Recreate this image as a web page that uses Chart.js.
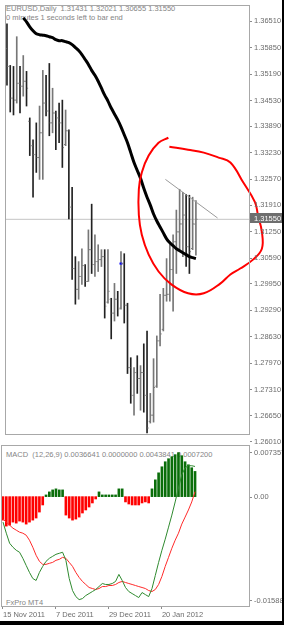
<!DOCTYPE html>
<html lang="pt-BR">
<head>
<meta charset="utf-8">
<title>EURUSD Daily</title>
<script src="https://cdn.jsdelivr.net/npm/chart.js@4.4.1/dist/chart.umd.min.js"></script>
<style>
    html, body { margin: 0; padding: 0; background: #ffffff; }
    body { position: relative; width: 284px; height: 625px; overflow: hidden; font-family: "Liberation Sans", Arial, sans-serif; }
    canvas { position: absolute; left: 0; }
    #grafico-preco { top: 0; width: 284px; height: 450px; }
    #grafico-macd { top: 440px; width: 284px; height: 185px; }
    .texto { position: absolute; left: 6px; font-size: 7.5px; line-height: 9px; color: #858585; white-space: pre; }
    .borda { position: absolute; background: #000; }
</style>
</head>
<body>
<div class="texto" style="top: 3.5px;">EURUSD,Daily  1.31431 1.32021 1.30655 1.31550</div>
<div class="texto" style="top: 12.5px;">0 minutes 1 seconds left to bar end</div>
<div class="texto" style="top: 449.5px;">MACD  (12,26,9) 0.0036641 0.0000000 0.0043841 0.0007200</div>
<div class="texto" style="top: 597.5px;">FxPro MT4</div>
<canvas id="grafico-preco" width="284" height="450"></canvas>
<canvas id="grafico-macd" width="284" height="185"></canvas>
<div class="borda" style="left: 282px; top: 0; width: 2px; height: 625px;"></div>
<div class="borda" style="left: 0; top: 621px; width: 284px; height: 4px;"></div>
<script>
// Barras diárias (OHLC)
const aberturas = [1.35817, 1.35371, 1.34579, 1.34529, 1.34950, 1.34876, 1.35000, 1.34000, 1.33390, 1.33167,
    1.33093, 1.33712, 1.34455, 1.34257, 1.33960, 1.34207, 1.34084, 1.33960, 1.33420, 1.33762,
    1.31855, 1.30320, 1.29800, 1.30122, 1.30394, 1.29998, 1.30791, 1.30419, 1.30493, 1.30543,
    1.30617, 1.29480, 1.29550, 1.29206, 1.29553, 1.29330, 1.30444, 1.29404, 1.27844, 1.27151,
    1.27720, 1.27572, 1.27720, 1.27151, 1.26500, 1.26656, 1.27380, 1.28513, 1.28800, 1.29652,
    1.29676, 1.30295, 1.30989, 1.31236, 1.31434, 1.31657, 1.30865, 1.30820, 1.31431];
const maximas = [1.36436, 1.35396, 1.35371, 1.36114, 1.35371, 1.35643, 1.35247, 1.34084, 1.33539, 1.33960,
    1.34381, 1.35272, 1.35148, 1.35445, 1.34826, 1.34257, 1.34455, 1.34529, 1.34282, 1.33786,
    1.32350, 1.30617, 1.30493, 1.30815, 1.30419, 1.31286, 1.31929, 1.31162, 1.30914, 1.30791,
    1.30791, 1.30791, 1.29577, 1.29949, 1.29751, 1.30741, 1.30691, 1.29453, 1.28092, 1.27844,
    1.28141, 1.27894, 1.28438, 1.28760, 1.27200, 1.28067, 1.28636, 1.29676, 1.29825, 1.30568,
    1.30989, 1.31162, 1.31781, 1.32301, 1.32227, 1.32177, 1.32152, 1.32103, 1.32021];
const minimas = [1.34901, 1.34232, 1.34158, 1.34455, 1.34207, 1.34628, 1.34381, 1.33143, 1.32103, 1.32722,
    1.32548, 1.32548, 1.34133, 1.33638, 1.33712, 1.33291, 1.33465, 1.32846, 1.33390, 1.31558,
    1.30048, 1.29429, 1.29553, 1.29924, 1.29874, 1.29998, 1.30196, 1.30122, 1.30246, 1.30370,
    1.29082, 1.29453, 1.28562, 1.29008, 1.29132, 1.29305, 1.28958, 1.27696, 1.26953, 1.26656,
    1.27200, 1.26779, 1.26730, 1.26210, 1.26458, 1.26482, 1.27349, 1.28389, 1.28760, 1.29503,
    1.29503, 1.29255, 1.30196, 1.30791, 1.30617, 1.30370, 1.30196, 1.30791, 1.30655];
const fechamentos = [1.35371, 1.34579, 1.34529, 1.34950, 1.34876, 1.35000, 1.34826, 1.33390, 1.33167, 1.33093,
    1.33712, 1.34455, 1.34257, 1.33960, 1.34207, 1.34084, 1.33960, 1.33341, 1.33762, 1.31855,
    1.30320, 1.29800, 1.30122, 1.30394, 1.29998, 1.30791, 1.30419, 1.30493, 1.30543, 1.30617,
    1.29379, 1.29751, 1.29206, 1.29553, 1.29305, 1.30444, 1.29404, 1.27844, 1.27151, 1.27720,
    1.27572, 1.27720, 1.27151, 1.26334, 1.26656, 1.27349, 1.28513, 1.28686, 1.29652, 1.29676,
    1.30295, 1.30989, 1.31236, 1.31434, 1.31657, 1.30865, 1.30741, 1.31434, 1.31550];

// Média móvel (linha preta grossa)
const mediaMovel = [null, null, null, null, null, 1.36584, 1.36485, 1.36362, 1.36262, 1.36188,
    1.36163, 1.36151, 1.36139, 1.36114, 1.36089, 1.36040, 1.36015, 1.36015, 1.35990, 1.35965,
    1.35916, 1.35842, 1.35767, 1.35668, 1.35545, 1.35421, 1.35272, 1.35148, 1.35000, 1.34826,
    1.34653, 1.34505, 1.34331, 1.34183, 1.34034, 1.33861, 1.33663, 1.33465, 1.33217, 1.32969,
    1.32771, 1.32573, 1.32326, 1.32103, 1.31905, 1.31682, 1.31508, 1.31360, 1.31211, 1.31063,
    1.30964, 1.30890, 1.30815, 1.30766, 1.30716, 1.30667, 1.30617, 1.30592, 1.30568];

// Marcações feitas à mão: círculo vermelho e linha de tendência
const circuloX = [49.55, 46.53, 43.50, 41.39, 40.48, 40.48, 41.39, 43.50, 46.53, 50.45, 55.59, 60.42, 65.56,
    68.58, 71.60, 75.53, 78.25, 78.25, 77.04, 76.13, 72.51, 68.58, 64.95, 60.42, 55.59, 49.85];
const circuloY = [1.33588, 1.33465, 1.33143, 1.32722, 1.32301, 1.31657, 1.31162, 1.30667, 1.30246, 1.29924,
    1.29701, 1.29701, 1.29949, 1.30172, 1.30320, 1.30543, 1.30815, 1.31236, 1.31657, 1.31979, 1.32474,
    1.32969, 1.33093, 1.33217, 1.33291, 1.33366];
const tendenciaX = [48.64, 64.65];
const tendenciaY = [1.32548, 1.31583];
const precoBid = 1.31550;
const marcaAzulX = 35;
const marcaAzulY = 1.30444;

// Escala de preços
const ticksPreco = [1.36510, 1.35850, 1.35190, 1.34530, 1.33890, 1.33230, 1.32570, 1.31910, 1.31250,
    1.30590, 1.29950, 1.29290, 1.28630, 1.27970, 1.27310, 1.26650, 1.26010];

// MACD
const histograma = [-0.00341, -0.00428, -0.00414, -0.00370, -0.00385, -0.00355, -0.00370, -0.00399, -0.00370, -0.00341,
    -0.00311, -0.00224, -0.00121, 0.00025, 0.00069, 0.00098, 0.00113, 0.00098, 0.00098, -0.00268,
    -0.00311, -0.00341, -0.00326, -0.00297, -0.00238, -0.00194, -0.00151, -0.00092, -0.00034, 0.00069,
    0.00025, 0.00025, 0.00025, 0.00025, 0.00025, 0.00113, 0.00113, -0.00077, -0.00107, -0.00121,
    -0.00121, -0.00121, -0.00092, -0.00077, -0.00092, 0.00113, 0.00244, 0.00346, 0.00434, 0.00507,
    0.00551, 0.00580, 0.00610, 0.00639, 0.00595, 0.00507, 0.00463, 0.00420, 0.0036641];
const linhaVerde = [-0.00370, -0.00531, -0.00677, -0.00735, -0.00779, -0.00808, -0.00896, -0.00999, -0.01101, -0.01189,
    -0.01218, -0.01101, -0.01013, -0.00940, -0.00896, -0.00867, -0.00838, -0.00823, -0.00808, -0.00925,
    -0.01189, -0.01364, -0.01452, -0.01496, -0.01481, -0.01437, -0.01408, -0.01379, -0.01349, -0.01306,
    -0.01262, -0.01276, -0.01276, -0.01262, -0.01232, -0.01130, -0.01218, -0.01320, -0.01379, -0.01408,
    -0.01437, -0.01466, -0.01393, -0.01423, -0.01452, -0.01335, -0.01145, -0.00955, -0.00779, -0.00618,
    -0.00443, -0.00268, -0.00077, 0.00127, 0.00317, 0.00420, 0.00449, 0.00449, 0.0043841];
const linhaVermelha = [-0.00326, -0.00370, -0.00414, -0.00458, -0.00487, -0.00516, -0.00531, -0.00560, -0.00633, -0.00735,
    -0.00852, -0.00940, -0.00984, -0.00984, -0.00969, -0.00955, -0.00925, -0.00911, -0.00882, -0.00896,
    -0.00955, -0.01013, -0.01101, -0.01174, -0.01232, -0.01276, -0.01320, -0.01335, -0.01349, -0.01335,
    -0.01306, -0.01306, -0.01291, -0.01291, -0.01276, -0.01247, -0.01232, -0.01247, -0.01262, -0.01276,
    -0.01291, -0.01306, -0.01320, -0.01335, -0.01364, -0.01379, -0.01349, -0.01276, -0.01159, -0.01013,
    -0.00882, -0.00750, -0.00633, -0.00531, -0.00399, -0.00297, -0.00194, -0.00077, 0.00072];
const ticksMacd = [0.007357, 0, -0.015888];
const rotulosMacd = ['0.007357', '0.00', '-0.015888'];

// Datas do eixo horizontal
const posDatas = [0, 16, 32, 48];
const rotulosDatas = ['15 Nov 2011', '7 Dec 2011', '29 Dec 2011', '20 Jan 2012'];

const FONTE = '"Liberation Sans", Arial, sans-serif';
const indices = maximas.map((_, i) => i);

// Plugin: moldura do painel, escala da direita e etiqueta do bid
const painelMT4 = {
    id: 'painelMT4',
    afterDraw(chart, args, opts) {
        const { ctx, chartArea: area } = chart;
        const y = chart.scales.y;
        ctx.save();
        ctx.strokeStyle = '#a8a8a8';
        ctx.lineWidth = 1;
        ctx.strokeRect(area.left - 0.5, area.top - 0.5, area.right - area.left + 1, area.bottom - area.top + 1);

        ctx.font = '7.5px ' + FONTE;
        ctx.textBaseline = 'middle';
        ctx.textAlign = 'left';
        opts.valores.forEach((v, i) => {
            let py = y.getPixelForValue(v);
            if (opts.limitar) py = Math.min(Math.max(py, area.top + 6), area.bottom - 6);
            ctx.fillStyle = '#8c8c8c';
            ctx.fillRect(area.right + 1, Math.round(py), 2, 1);
            ctx.fillStyle = '#6c6c6c';
            ctx.fillText(opts.rotulos[i], area.right + 5, py + 0.5);
        });

        if (opts.bid !== undefined) {
            const py = Math.round(y.getPixelForValue(opts.bid));
            ctx.fillStyle = '#6e6e6e';
            ctx.fillRect(area.right + 1, py - 6, 34, 10);
            ctx.fillStyle = '#ffffff';
            ctx.fillText(opts.bid.toFixed(5), area.right + 5, py - 0.5);
        }
        ctx.restore();
    }
};

// Gráfico de preços
const graficoPreco = new Chart(document.getElementById('grafico-preco'), {
    type: 'bar',
    data: {
        datasets: [
            {
                type: 'line',
                data: circuloX.map((x, i) => ({ x: x, y: circuloY[i] })),
                borderColor: '#ff0000',
                borderWidth: 2,
                pointRadius: 0,
                tension: 0.4,
                clip: false,
                order: 0
            },
            {
                type: 'line',
                data: mediaMovel.map((v, i) => ({ x: i, y: v })),
                borderColor: '#000000',
                borderWidth: 3,
                pointRadius: 0,
                tension: 0.3,
                order: 1
            },
            {
                type: 'line',
                data: tendenciaX.map((x, i) => ({ x: x, y: tendenciaY[i] })),
                borderColor: '#9a9a9a',
                borderWidth: 1,
                pointRadius: 0,
                order: 2
            },
            {
                type: 'bar',
                data: indices.map(i => ({ x: i, y: [minimas[i], maximas[i]] })),
                backgroundColor: indices.map(i => fechamentos[i] >= aberturas[i] ? '#777777' : '#222222'),
                barThickness: 1,
                grouped: false,
                order: 4
            },
            {
                type: 'scatter',
                data: indices.map(i => ({ x: i - 0.3, y: aberturas[i] })),
                pointStyle: 'line',
                radius: 0.6,
                borderColor: '#777777',
                borderWidth: 1,
                order: 3
            },
            {
                type: 'scatter',
                data: indices.map(i => ({ x: i + 0.3, y: fechamentos[i] })),
                pointStyle: 'line',
                radius: 0.6,
                borderColor: '#777777',
                borderWidth: 1,
                order: 3
            },
            {
                type: 'scatter',
                data: [{ x: marcaAzulX, y: marcaAzulY }],
                pointStyle: 'line',
                radius: 1.5,
                borderColor: '#0000ff',
                borderWidth: 2,
                order: 3
            },
            {
                type: 'line',
                data: [{ x: -0.3, y: precoBid }, { x: 74.3, y: precoBid }],
                borderColor: '#c4c4c4',
                borderWidth: 1,
                pointRadius: 0,
                order: 5
            }
        ]
    },
    options: {
        responsive: false,
        animation: false,
        layout: { padding: { left: 2, top: 2, right: 35, bottom: 16 } },
        plugins: {
            legend: { display: false },
            tooltip: { enabled: false },
            painelMT4: {
                valores: ticksPreco,
                rotulos: ticksPreco.map(v => v.toFixed(5)),
                limitar: false,
                bid: precoBid
            }
        },
        scales: {
            x: { type: 'linear', min: -0.3, max: 74.3, offset: false, display: false },
            y: { type: 'linear', min: 1.26185, max: 1.36881, display: false }
        }
    },
    plugins: [painelMT4]
});

// Gráfico do MACD
const graficoMacd = new Chart(document.getElementById('grafico-macd'), {
    type: 'bar',
    data: {
        datasets: [
            {
                type: 'line',
                data: linhaVerde.map((v, i) => ({ x: i, y: v })),
                borderColor: '#2f8a2f',
                borderWidth: 1,
                pointRadius: 0,
                order: 0
            },
            {
                type: 'line',
                data: linhaVermelha.map((v, i) => ({ x: i, y: v })),
                borderColor: '#ff2a2a',
                borderWidth: 1,
                pointRadius: 0,
                order: 1
            },
            {
                type: 'bar',
                data: histograma.map((v, i) => ({ x: i, y: v })),
                backgroundColor: histograma.map(v => v >= 0 ? '#0a6e0a' : '#ff0000'),
                barThickness: 2,
                grouped: false,
                order: 2
            }
        ]
    },
    options: {
        responsive: false,
        animation: false,
        layout: { padding: { left: 2, top: 6, right: 35, bottom: 0 } },
        plugins: {
            legend: { display: false },
            tooltip: { enabled: false },
            painelMT4: {
                valores: ticksMacd,
                rotulos: rotulosMacd,
                limitar: true
            }
        },
        scales: {
            x: {
                type: 'linear',
                min: -0.3,
                max: 74.3,
                offset: false,
                position: 'bottom',
                afterBuildTicks: escala => { escala.ticks = posDatas.map(v => ({ value: v })); },
                afterFit: escala => { escala.height = 19; },
                border: { display: false },
                grid: { offset: false, drawOnChartArea: false, drawTicks: true, tickLength: 3, color: '#8c8c8c' },
                ticks: {
                    autoSkip: false,
                    maxRotation: 0,
                    align: 'start',
                    padding: 1,
                    color: '#6c6c6c',
                    font: { family: FONTE, size: 7.5 },
                    callback: v => rotulosDatas[posDatas.indexOf(v)]
                }
            },
            y: { type: 'linear', min: -0.015888, max: 0.007357, display: false }
        }
    },
    plugins: [painelMT4]
});
</script>
</body>
</html>
